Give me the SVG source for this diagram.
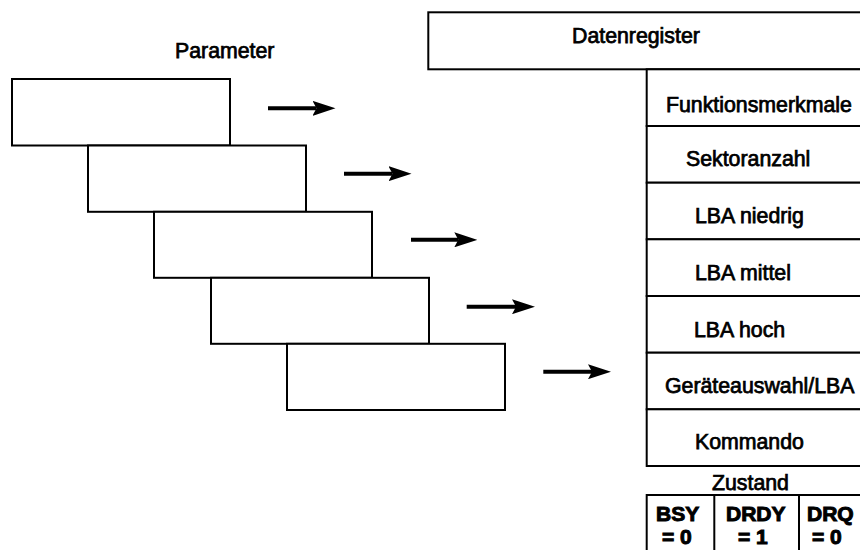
<svg xmlns="http://www.w3.org/2000/svg" width="860" height="550" viewBox="0 0 860 550">
  <style>
    .box { fill: #fff; stroke: #000; stroke-width: 2; }
    .ln { stroke: #000; stroke-width: 2; fill: none; }
    .t { font-family: "Liberation Sans", Arial, sans-serif; font-size: 21.3px; fill: #000; stroke: #000; stroke-width: 0.75; }
    .b { font-family: "Liberation Sans", Arial, sans-serif; font-size: 21px; font-weight: bold; fill: #000; stroke: #000; stroke-width: 1; }
    .arr { stroke: #000; stroke-width: 4; fill: none; marker-end: url(#head); }
  </style>
  <defs>
    <marker id="head" viewBox="0 0 23 15" refX="4" refY="7.5" markerWidth="23" markerHeight="15" markerUnits="userSpaceOnUse" orient="auto">
      <path d="M0,0 L23,7.5 L0,15 L4,7.5 Z" fill="#000"/>
    </marker>
  </defs>
  <rect width="860" height="550" fill="#fff"/>

  <g id="parameter-label">
    <text class="t" x="175" y="58">Parameter</text>
  </g>

  <g id="param-1"><rect class="box" x="12" y="79" width="218" height="66.5"/></g>
  <g id="param-2"><rect class="box" x="88" y="145.5" width="218" height="66.3"/></g>
  <g id="param-3"><rect class="box" x="154" y="211.8" width="218" height="66"/></g>
  <g id="param-4"><rect class="box" x="211" y="277.8" width="218" height="66"/></g>
  <g id="param-5"><rect class="box" x="287" y="343.8" width="218" height="66.2"/></g>

  <g id="connectors">
    <line class="arr" x1="268" y1="108.3" x2="316.5" y2="108.3"/>
    <line class="arr" x1="344" y1="173.7" x2="392.5" y2="173.7"/>
    <line class="arr" x1="411" y1="239.8" x2="458.3" y2="239.8"/>
    <line class="arr" x1="466.7" y1="306.7" x2="516" y2="306.7"/>
    <line class="arr" x1="543.3" y1="371.7" x2="592" y2="371.7"/>
  </g>

  <g id="datenregister">
    <rect class="box" x="428.3" y="12.3" width="440" height="57"/>
    <text class="t" x="572" y="43.3">Datenregister</text>
  </g>

  <g id="reg-funktionsmerkmale">
    <rect class="box" x="646.7" y="69.3" width="220" height="56.7"/>
    <text class="t" x="666" y="112">Funktionsmerkmale</text>
  </g>
  <g id="reg-sektoranzahl">
    <rect class="box" x="646.7" y="126" width="220" height="56.7"/>
    <text class="t" x="686" y="166">Sektoranzahl</text>
  </g>
  <g id="reg-lba-niedrig">
    <rect class="box" x="646.7" y="182.7" width="220" height="56.6"/>
    <text class="t" x="695" y="223.3">LBA niedrig</text>
  </g>
  <g id="reg-lba-mittel">
    <rect class="box" x="646.7" y="239.3" width="220" height="56.7"/>
    <text class="t" x="695" y="280">LBA mittel</text>
  </g>
  <g id="reg-lba-hoch">
    <rect class="box" x="646.7" y="296" width="220" height="56.7"/>
    <text class="t" x="694" y="336.7">LBA hoch</text>
  </g>
  <g id="reg-geraeteauswahl">
    <rect class="box" x="646.7" y="352.7" width="220" height="56.6"/>
    <text class="t" x="665" y="392.7">Geräteauswahl/LBA</text>
  </g>
  <g id="reg-kommando">
    <rect class="box" x="646.7" y="409.3" width="220" height="56.7"/>
    <text class="t" x="695" y="449.3">Kommando</text>
  </g>

  <g id="zustand">
    <text class="t" x="712" y="490">Zustand</text>
    <line class="ln" x1="646.7" y1="495" x2="870" y2="495"/>
    <line class="ln" x1="646.7" y1="494" x2="646.7" y2="560"/>
    <line class="ln" x1="714.3" y1="494" x2="714.3" y2="560"/>
    <line class="ln" x1="799" y1="494" x2="799" y2="560"/>
  </g>
  <g id="bsy">
    <text class="b" x="656" y="521">BSY</text>
    <text class="b" x="662" y="544">= 0</text>
  </g>
  <g id="drdy">
    <text class="b" x="726" y="521">DRDY</text>
    <text class="b" x="738" y="544">= 1</text>
  </g>
  <g id="drq">
    <text class="b" x="807" y="521">DRQ</text>
    <text class="b" x="812" y="544">= 0</text>
  </g>
</svg>
